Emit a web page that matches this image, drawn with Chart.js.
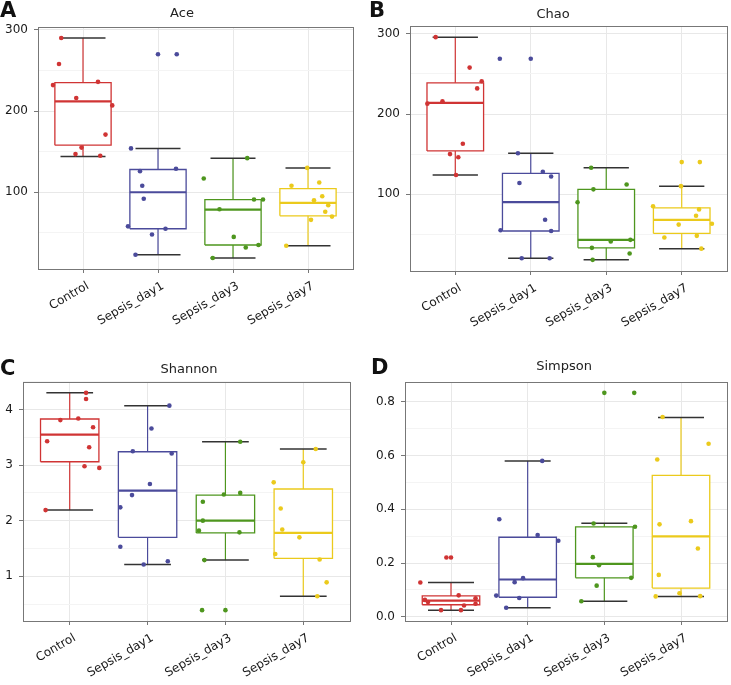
<!DOCTYPE html>
<html>
<head>
<meta charset="utf-8">
<script src="https://cdn.jsdelivr.net/npm/chart.js@4.4.0/dist/chart.umd.min.js"></script>
<style>
  body{margin:0;background:#fff;width:731px;height:685px;position:relative;overflow:hidden;}
  .panel{position:absolute;}
</style>
</head>
<body>
<div class="panel" style="left:0;top:0"><canvas id="ace" width="365" height="330"></canvas></div>
<div class="panel" style="left:365px;top:0"><canvas id="chao" width="366" height="330"></canvas></div>
<div class="panel" style="left:0;top:330px"><canvas id="shannon" width="365" height="355"></canvas></div>
<div class="panel" style="left:365px;top:330px"><canvas id="simpson" width="366" height="355"></canvas></div>
<script>
const categories = ['Control', 'Sepsis_day1', 'Sepsis_day3', 'Sepsis_day7'];
const groupColors = ['#d03434', '#4b4b9b', '#4e961e', '#ebca1c'];

// Ace
const acePoints = [
  [290, 258, 232, 236, 216, 207, 171, 155, 147, 145],
  [270, 154, 126, 129, 108, 92, 58, 55, 48, 23],
  [142, 117, 91, 91, 79, 45, 35, 32, 19],
  [130, 108, 112, 95, 90, 84, 76, 70, 66, 34]
];
const aceJitter = [
  [-0.29, -0.32, -0.40, 0.20, -0.09, 0.39, 0.30, -0.02, -0.10, 0.23],
  [0.25, -0.36, -0.24, 0.24, -0.21, -0.19, -0.40, 0.10, -0.08, -0.30],
  [0.19, -0.39, 0.28, 0.40, -0.18, 0.01, 0.34, 0.17, -0.27],
  [-0.01, -0.22, 0.15, 0.19, 0.08, 0.27, 0.23, 0.32, 0.04, -0.29]
];
const aceLow = [144, 23, 19, 34];
const aceQ1 = [158, 55, 35, 71];
const aceMedian = [212, 100, 78.5, 87];
const aceQ3 = [235, 128, 91, 104.5];
const aceHigh = [290, 154, 142, 130];
const aceOutliers = [[], [270], [], []];
const aceTicks = [100, 200, 300];
const aceMinor = [50, 150, 250];

// Chao
const chaoPoints = [
  [296, 258, 232, 241, 213, 216, 163, 150, 146, 124],
  [269, 151, 128, 122, 114, 68, 55, 54, 20, 20],
  [133, 106, 112, 90, 41, 43, 33, 26, 18],
  [140, 110, 85, 81, 73, 63, 62, 46, 48, 32]
];
const chaoJitter = [
  [-0.26, 0.19, 0.29, 0.35, -0.37, -0.17, 0.10, -0.07, 0.04, 0.01],
  [-0.41, -0.17, 0.16, 0.27, -0.15, 0.19, -0.40, 0.27, -0.12, 0.25],
  [-0.20, -0.17, 0.27, -0.38, 0.06, 0.32, -0.19, 0.31, -0.18],
  [0.24, -0.01, -0.38, 0.23, 0.19, 0.40, -0.04, -0.23, 0.20, 0.26]
];
const chaoLow = [124, 20, 18, 32];
const chaoQ1 = [154, 54, 33, 51];
const chaoMedian = [214, 90, 43, 68];
const chaoQ3 = [239, 126, 106, 83];
const chaoHigh = [296, 151, 133, 110];
const chaoOutliers = [[], [269], [], [140]];
const chaoTicks = [100, 200, 300];
const chaoMinor = [50, 150, 250];

// Shannon
const shannonPoints = [
  [4.30, 4.19, 3.81, 3.84, 3.68, 3.43, 3.32, 2.98, 2.95, 2.19],
  [4.07, 3.66, 3.25, 3.21, 2.66, 2.46, 2.24, 1.53, 1.27, 1.21],
  [3.42, 2.34, 2.47, 2.50, 2.00, 1.82, 1.79, 1.29, 0.39],
  [3.29, 3.05, 2.69, 2.22, 1.84, 1.70, 1.40, 1.30, 0.89, 0.64]
];
const shannonJitter = [
  [0.21, 0.21, -0.12, 0.11, 0.30, -0.29, 0.25, 0.19, 0.38, -0.31],
  [0.28, 0.05, -0.19, 0.31, 0.03, -0.20, -0.35, -0.35, 0.26, -0.05],
  [0.19, -0.29, -0.02, 0.19, -0.29, -0.34, 0.18, -0.27, -0.30],
  [0.16, 0.00, -0.38, -0.29, -0.27, -0.05, -0.36, 0.21, 0.30, 0.18]
];
const shannonLow = [2.19, 1.21, 1.29, 0.64];
const shannonQ1 = [3.06, 1.70, 1.78, 1.32];
const shannonMedian = [3.55, 2.54, 2.00, 1.78];
const shannonQ3 = [3.83, 3.24, 2.46, 2.57];
const shannonHigh = [4.30, 4.07, 3.42, 3.29];
const shannonOutliers = [[], [], [0.39], []];
const shannonTicks = [1, 2, 3, 4];
const shannonMinor = [0.5, 1.5, 2.5, 3.5, 4.5];

// Simpson
const simpsonPoints = [
  [0.221, 0.128, 0.080, 0.063, 0.055, 0.069, 0.049, 0.042, 0.025, 0.025],
  [0.58, 0.363, 0.304, 0.283, 0.144, 0.129, 0.079, 0.070, 0.034],
  [0.833, 0.347, 0.335, 0.222, 0.192, 0.116, 0.145, 0.058],
  [0.743, 0.644, 0.585, 0.344, 0.356, 0.254, 0.156, 0.088, 0.076, 0.077]
];
const simpsonJitter = [
  [-0.06, -0.40, 0.10, -0.34, -0.30, 0.32, 0.32, 0.17, -0.13, 0.13],
  [0.19, -0.37, 0.13, 0.40, -0.06, -0.17, -0.41, -0.11, -0.28],
  [0.39, -0.14, 0.40, -0.15, -0.07, -0.10, 0.35, -0.30],
  [-0.24, 0.36, -0.31, -0.28, 0.13, 0.22, -0.29, -0.02, -0.33, 0.25]
];
const simpsonLow = [0.025, 0.034, 0.058, 0.076];
const simpsonQ1 = [0.045, 0.073, 0.145, 0.107];
const simpsonMedian = [0.060, 0.139, 0.197, 0.299];
const simpsonQ3 = [0.078, 0.296, 0.335, 0.526];
const simpsonHigh = [0.128, 0.58, 0.348, 0.741];
const simpsonOutliers = [[0.221], [], [0.833], []];
const simpsonTicks = [0, 0.2, 0.4, 0.6, 0.8];
const simpsonMinor = [0.1, 0.3, 0.5, 0.7];

const boxHalf = 0.375;
const capHalf = 0.3;

// letter + title, drawn on the canvas
const panelText = {
  id: 'panelText',
  afterDraw(chart, args, o) {
    const ctx = chart.ctx;
    ctx.save();
    ctx.fillStyle = '#111';
    ctx.textBaseline = 'middle';
    ctx.textAlign = 'left';
    ctx.font = 'bold 21px "DejaVu Sans"';
    ctx.fillText(o.letter, o.letterX, o.letterY);
    ctx.font = '13px "DejaVu Sans"';
    ctx.fillStyle = '#222';
    ctx.textAlign = 'center';
    ctx.fillText(o.title, o.titleX, o.titleY);
    ctx.restore();
  }
};

// grey panel border like ggplot
const frame = {
  id: 'frame',
  afterDatasetsDraw(chart) {
    const {left, top, right, bottom} = chart.chartArea;
    const ctx = chart.ctx;
    ctx.save();
    ctx.strokeStyle = '#777';
    ctx.lineWidth = 1;
    ctx.strokeRect(Math.round(left) + 0.5, Math.round(top) + 0.5, Math.round(right - left), Math.round(bottom - top));
    ctx.restore();
  }
};

function seg(data, color, width, order) {
  return {data: data, showLine: true, borderColor: color, borderWidth: width,
    pointRadius: 0, fill: false, order: order};
}

function buildDatasets(s) {
  const ds = [];
  categories.forEach((cat, i) => {
    const c = i + 1;
    const col = groupColors[i];
    ds.push(seg([{x: c, y: s.low[i]}, {x: c, y: s.high[i]}], col, 1.2, 7));
    ds.push({data: [{x: c - boxHalf, y: s.q3[i]}, {x: c + boxHalf, y: s.q3[i]}],
      showLine: true, borderWidth: 0, pointRadius: 0, backgroundColor: '#fff',
      fill: {value: s.q1[i]}, order: 6});
    ds.push(seg([
      {x: c - boxHalf, y: s.q1[i]}, {x: c + boxHalf, y: s.q1[i]},
      {x: c + boxHalf, y: s.q3[i]}, {x: c - boxHalf, y: s.q3[i]},
      {x: c - boxHalf, y: s.q1[i]}], col, 1.3, 5));
    ds.push(seg([{x: c - boxHalf, y: s.median[i]}, {x: c + boxHalf, y: s.median[i]}], col, 2.2, 4));
    ds.push(seg([{x: c - capHalf, y: s.low[i]}, {x: c + capHalf, y: s.low[i]}], '#333', 1.5, 3));
    ds.push(seg([{x: c - capHalf, y: s.high[i]}, {x: c + capHalf, y: s.high[i]}], '#333', 1.5, 3));
    ds.push({data: s.outliers[i].map(v => ({x: c, y: v})), showLine: false,
      pointRadius: 2.3, pointBorderWidth: 0, pointBackgroundColor: col, order: 1});
    ds.push({data: s.points[i].map((v, j) => ({x: c + s.jitter[i][j], y: v})), showLine: false,
      pointRadius: 2.3, pointBorderWidth: 0, pointBackgroundColor: col, order: 0});
  });
  return ds;
}

function makePanel(id, s, lay) {
  const all = s.points.flat();
  const lo = Math.min(...all), hi = Math.max(...all);
  const pad = (hi - lo) * 0.05;
  const tickValues = s.ticks.concat(s.minor).sort((a, b) => a - b);
  const isMinor = v => s.minor.some(m => Math.abs(m - v) < 1e-9);
  new Chart(document.getElementById(id), {
    type: 'line',
    data: {datasets: buildDatasets(s)},
    options: {
      responsive: false,
      animation: false,
      layout: {padding: {top: lay.top, right: lay.right, left: 0, bottom: 0}},
      plugins: {
        legend: {display: false},
        tooltip: {enabled: false},
        panelText: lay.text
      },
      scales: {
        x: {
          type: 'linear',
          min: 0.4, max: 4.6,
          afterBuildTicks: sc => { sc.ticks = categories.map((c, i) => ({value: i + 1})); },
          afterFit: sc => { sc.height = lay.xHeight; },
          grid: {color: '#e8e8e8', tickColor: '#777', tickLength: 4, lineWidth: 1},
          border: {display: false},
          ticks: {
            autoSkip: false, minRotation: 30, maxRotation: 30, padding: 6, labelOffset: 5,
            color: '#1a1a1a', font: {family: 'DejaVu Sans', size: 12},
            callback: v => categories[Math.round(v) - 1]
          }
        },
        y: {
          type: 'linear',
          min: lo - pad, max: hi + pad,
          afterBuildTicks: sc => { sc.ticks = tickValues.map(v => ({value: v})); },
          afterFit: sc => { sc.width = lay.yWidth; },
          grid: {
            color: c => isMinor(c.tick.value) ? '#f4f4f4' : '#e8e8e8',
            tickColor: c => isMinor(c.tick.value) ? 'rgba(0,0,0,0)' : '#777',
            tickLength: 4, lineWidth: 1
          },
          border: {display: false},
          ticks: {
            autoSkip: false, padding: 6,
            color: '#1a1a1a', font: {family: 'DejaVu Sans', size: 12},
            callback: v => isMinor(v) ? '' : v.toFixed(s.decimals)
          }
        }
      }
    },
    plugins: [panelText, frame]
  });
}

makePanel('ace', {points: acePoints, jitter: aceJitter, low: aceLow, q1: aceQ1, median: aceMedian,
  q3: aceQ3, high: aceHigh, outliers: aceOutliers, ticks: aceTicks, minor: aceMinor, decimals: 0},
  {top: 27, right: 12, yWidth: 38, xHeight: 61,
   text: {letter: 'A', letterX: 0, letterY: 12, title: 'Ace', titleX: 182, titleY: 14}});

makePanel('chao', {points: chaoPoints, jitter: chaoJitter, low: chaoLow, q1: chaoQ1, median: chaoMedian,
  q3: chaoQ3, high: chaoHigh, outliers: chaoOutliers, ticks: chaoTicks, minor: chaoMinor, decimals: 0},
  {top: 26, right: 2, yWidth: 45, xHeight: 59,
   text: {letter: 'B', letterX: 4, letterY: 12, title: 'Chao', titleX: 188, titleY: 15}});

makePanel('shannon', {points: shannonPoints, jitter: shannonJitter, low: shannonLow, q1: shannonQ1,
  median: shannonMedian, q3: shannonQ3, high: shannonHigh, outliers: shannonOutliers,
  ticks: shannonTicks, minor: shannonMinor, decimals: 0},
  {top: 52, right: 15, yWidth: 23, xHeight: 64,
   text: {letter: 'C', letterX: 0, letterY: 40, title: 'Shannon', titleX: 189, titleY: 40}});

makePanel('simpson', {points: simpsonPoints, jitter: simpsonJitter, low: simpsonLow, q1: simpsonQ1,
  median: simpsonMedian, q3: simpsonQ3, high: simpsonHigh, outliers: simpsonOutliers,
  ticks: simpsonTicks, minor: simpsonMinor, decimals: 1},
  {top: 52, right: 1, yWidth: 40, xHeight: 64,
   text: {letter: 'D', letterX: 6, letterY: 39, title: 'Simpson', titleX: 199, titleY: 37}});
</script>
</body>
</html>
